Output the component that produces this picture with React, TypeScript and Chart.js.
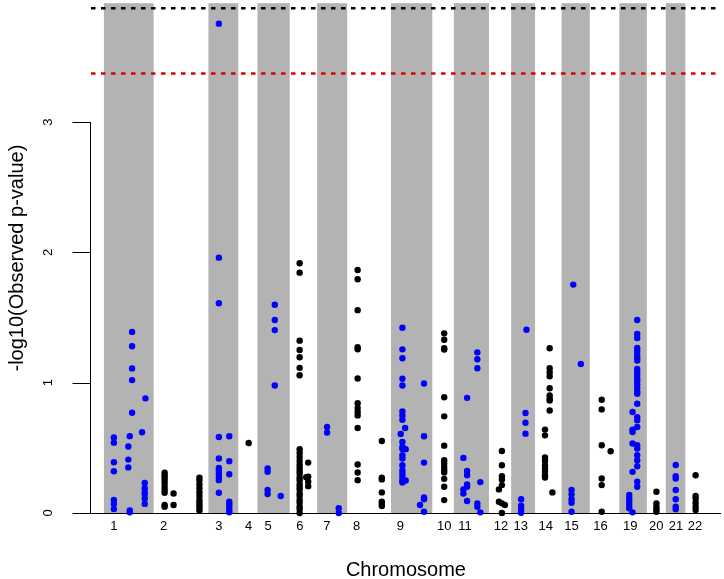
import React, { useEffect, useRef } from "react";
import { Chart, registerables } from "chart.js";

Chart.register(...registerables);

type Group = [number, number[]];

// Chromosome names shown on the x axis (17 and 18 are absent in the data)
const chromosomes = ["1", "2", "3", "4", "5", "6", "7", "8", "9", "10", "11", "12", "13", "14", "15", "16", "19", "20", "21", "22"];
// Cumulative position (arbitrary units) where each chromosome block starts / ends
const chromosomeStarts = [13, 63, 118, 148, 167.3, 199.7, 227.3, 257.5, 301.5, 343, 364.7, 400, 422.3, 446.3, 473, 501.3, 531, 558.7, 577.7, 597.3];
const chromosomeEnds = [63, 118, 148, 167.3, 199.7, 227.3, 257.5, 301.5, 343, 364.7, 400, 422.3, 446.3, 473, 501.3, 531, 558.7, 577.7, 597.3, 617];
// Where each chromosome label sits on the x axis
const labelPositions = [23, 73, 128.5, 158.5, 178, 210, 237, 267, 311, 355, 376, 412, 432, 457, 483, 512, 542, 568, 588, 607];

const yTicks = [0, 1, 2, 3];
const xMin = 0;
const xMax = 633;
const yMax = 3.913;
const suggestiveLine = 3.374;
const significanceLine = 3.874;

// SNP positions and -log10(p) values, grouped as [position, values[]]
const chr1: Group[] = [
  [23, [0.58, 0.54, 0.39, 0.32, 0.1, 0.07, 0.03]],
  [37.5, [0.51, 0.41, 0.35]],
  [39, [0.59, 0.02, 0.005]],
  [41.3, [1.39, 1.28, 1.11, 1.02, 0.77]],
  [51.3, [0.62]],
  [54.7, [0.88]],
  [54, [0.23, 0.19, 0.16, 0.14, 0.11, 0.07]],
];
const chr2: Group[] = [
  [74, [0.31, 0.29, 0.27, 0.25, 0.227, 0.2, 0.176, 0.155, 0.061, 0.048]],
  [83, [0.15, 0.061]],
  [109, [0.27, 0.25, 0.22, 0.19, 0.16, 0.13, 0.1, 0.08, 0.06, 0.04, 0.02]],
];
const chr3: Group[] = [
  [128.5, [3.756, 1.96, 1.61, 0.583, 0.418, 0.346, 0.323, 0.298, 0.273, 0.252, 0.155]],
  [139, [0.589, 0.398, 0.298, 0.086, 0.069, 0.048, 0.023, 0.005]],
];
const chr4: Group[] = [[158.5, [0.537]]];
const chr5: Group[] = [
  [184.7, [1.598, 1.481, 1.404, 0.979]],
  [177.5, [0.342, 0.316, 0.176, 0.145]],
  [190.7, [0.13]],
];
const chr6: Group[] = [
  [209.7, [1.917, 1.845, 1.323, 1.251, 1.195, 1.114, 1.057, 0.49, 0.46, 0.43, 0.4, 0.37, 0.345, 0.32, 0.3, 0.27, 0.25, 0.22, 0.2, 0.18, 0.15, 0.13, 0.1, 0.08, 0.05, 0.03, 0.0]],
  [218.3, [0.387, 0.278, 0.24, 0.206]],
  [216.3, [0.275]],
];
const chr7: Group[] = [
  [237.3, [0.66, 0.617]],
  [249, [0.036, 0.0]],
];
const chr8: Group[] = [
  [268, [1.865, 1.794, 1.557, 1.272, 1.256, 1.032, 0.843, 0.805, 0.775, 0.749, 0.652, 0.372, 0.311, 0.252]],
  [292.3, [0.553, 0.27, 0.258, 0.158, 0.086, 0.069, 0.054]],
];
const chr9: Group[] = [
  [313, [1.422, 1.256, 1.188, 1.03, 0.979, 0.78, 0.749, 0.716, 0.545, 0.507, 0.492, 0.443, 0.418, 0.367, 0.329, 0.303, 0.278, 0.252, 0.235]],
  [315.7, [0.652]],
  [311.3, [0.606]],
  [316.3, [0.49, 0.25]],
  [334.7, [0.994, 0.589, 0.387, 0.12, 0.105, 0.01]],
  [330.7, [0.061]],
];
const chr10: Group[] = [
  [355, [1.379, 1.33, 1.264, 1.254, 0.889, 0.742, 0.517, 0.405, 0.38, 0.354, 0.329, 0.311, 0.262, 0.201, 0.099]],
];
const chr11: Group[] = [
  [378, [0.884, 0.323, 0.29, 0.219, 0.201, 0.092]],
  [388.3, [1.233, 1.18, 1.111, 0.074, 0.048]],
  [374.3, [0.423, 0.181, 0.15]],
  [391.3, [0.237, 0.005]],
];
const chr12: Group[] = [
  [413, [0.476, 0.367, 0.283, 0.258, 0.214, 0.074, 0.0]],
  [410, [0.181, 0.086]],
  [416, [0.061]],
];
const chr13: Group[] = [
  [437.7, [1.407]],
  [436.7, [0.767, 0.693, 0.609]],
  [432.3, [0.105, 0.056, 0.031, 0.002]],
];
const chr14: Group[] = [
  [461, [1.264, 1.111, 1.08, 1.05, 0.958, 0.902, 0.877, 0.864, 0.787]],
  [456.3, [0.64, 0.596, 0.426, 0.4, 0.367, 0.342, 0.316, 0.29, 0.273]],
  [463.7, [0.158]],
];
const chr15: Group[] = [
  [484.7, [1.753]],
  [492.3, [1.144]],
  [483, [0.176, 0.143, 0.105, 0.079, 0.01]],
];
const chr16: Group[] = [
  [513.3, [0.869, 0.795, 0.52, 0.265, 0.214, 0.01]],
  [522.3, [0.474]],
];
const chr19: Group[] = [
  [549, [1.481, 1.374, 1.343, 1.267, 1.241, 1.213, 1.19, 1.17, 1.106, 1.08, 1.055, 1.03, 1.011, 0.986, 0.961, 0.933, 0.915, 0.839, 0.736, 0.711, 0.66, 0.52, 0.495, 0.443, 0.405, 0.359, 0.24, 0.201]],
  [544.3, [0.775, 0.64, 0.622, 0.533, 0.316, 0.005]],
  [541, [0.138, 0.112, 0.086, 0.061, 0.036]],
];
const chr20: Group[] = [[568.3, [0.163, 0.074, 0.048, 0.028, 0.01]]];
const chr21: Group[] = [[587.7, [0.369, 0.283, 0.265, 0.176, 0.105, 0.048, 0.028]]];
const chr22: Group[] = [[607.7, [0.29, 0.13, 0.112, 0.079, 0.048, 0.023]]];

const chromosomeData: Group[][] = [chr1, chr2, chr3, chr4, chr5, chr6, chr7, chr8, chr9, chr10, chr11, chr12, chr13, chr14, chr15, chr16, chr19, chr20, chr21, chr22];

const FONT = "'Liberation Sans', Arial, Helvetica, sans-serif";
const BAND_COLOR = "#b3b3b3";
const ODD_COLOR = "#0000ff";
const EVEN_COLOR = "#000000";

const bandsPlugin = {
  id: "bands",
  beforeDraw(chart: any) {
    const { ctx, chartArea, scales } = chart;
    const x = scales.x;
    ctx.save();
    ctx.fillStyle = BAND_COLOR;
    chromosomes.forEach((_c, i) => {
      if (i % 2 === 0) {
        const l = x.getPixelForValue(chromosomeStarts[i]);
        const r = x.getPixelForValue(chromosomeEnds[i]);
        ctx.fillRect(l, chartArea.top, r - l, chartArea.bottom - chartArea.top);
      }
    });
    ctx.restore();
  },
};

const linesPlugin = {
  id: "thresholds",
  afterDatasetsDraw(chart: any) {
    const { ctx, chartArea, scales } = chart;
    const y = scales.y;
    const draw = (v: number, color: string) => {
      const py = y.getPixelForValue(v);
      ctx.save();
      ctx.strokeStyle = color;
      ctx.lineWidth = 2.5;
      ctx.setLineDash([4.5, 5.5]);
      ctx.beginPath();
      ctx.moveTo(chartArea.left, py);
      ctx.lineTo(chartArea.right, py);
      ctx.stroke();
      ctx.restore();
    };
    draw(significanceLine, "#000000");
    draw(suggestiveLine, "#dd0000");
  },
};

const yAxisPlugin = {
  id: "yaxisR",
  afterDraw(chart: any) {
    const { ctx, chartArea, scales } = chart;
    const y = scales.y;
    const ax = chartArea.left - 0.5;
    const top = Math.round(y.getPixelForValue(yTicks[yTicks.length - 1]));
    const bottom = Math.round(y.getPixelForValue(yTicks[0]));
    ctx.save();
    ctx.strokeStyle = "#000";
    ctx.lineWidth = 1;
    ctx.beginPath();
    ctx.moveTo(ax, top);
    ctx.lineTo(ax, bottom + 1);
    yTicks.forEach((t) => {
      const py = Math.round(y.getPixelForValue(t)) + 0.5;
      ctx.moveTo(ax, py);
      ctx.lineTo(ax - 18, py);
    });
    ctx.stroke();
    ctx.fillStyle = "#000";
    ctx.font = `13px ${FONT}`;
    ctx.textAlign = "center";
    ctx.textBaseline = "middle";
    yTicks.forEach((t) => {
      const py = y.getPixelForValue(t);
      ctx.save();
      ctx.translate(chartArea.left - 43, py);
      ctx.rotate(-Math.PI / 2);
      ctx.fillText(String(t), 0, 0);
      ctx.restore();
    });
    ctx.restore();
  },
};

export default function App() {
  const canvasRef = useRef<HTMLCanvasElement | null>(null);

  useEffect(() => {
    if (!canvasRef.current) return;
    const datasets = chromosomeData.map((groups, i) => ({
      label: chromosomes[i],
      data: groups.flatMap(([pos, vals]) => vals.map((v) => ({ x: pos, y: v }))),
      backgroundColor: i % 2 === 0 ? ODD_COLOR : EVEN_COLOR,
      borderWidth: 0,
      pointRadius: 3.2,
      pointHoverRadius: 3.2,
      clip: false as any,
    }));

    const chart = new Chart(canvasRef.current, {
      type: "scatter",
      data: { datasets },
      options: {
        animation: false,
        responsive: false,
        devicePixelRatio: 1,
        events: [],
        layout: { padding: { top: 2, left: 0, right: 0, bottom: 0 } },
        plugins: { legend: { display: false }, tooltip: { enabled: false } },
        scales: {
          x: {
            type: "linear",
            min: xMin,
            max: xMax,
            grid: { display: false, drawTicks: false },
            border: { display: true, color: "#000", width: 1 },
            ticks: {
              autoSkip: false,
              maxRotation: 0,
              minRotation: 0,
              padding: 6,
              color: "#000",
              font: { family: FONT, size: 13 },
              callback: (_v: any, i: number) => chromosomes[i],
            },
            afterBuildTicks: (scale: any) => {
              scale.ticks = labelPositions.map((v) => ({ value: v }));
            },
            afterFit: (scale: any) => {
              scale.height = 66;
            },
            title: {
              display: true,
              text: "Chromosome",
              color: "#000",
              font: { family: FONT, size: 20, lineHeight: 0.9 },
              padding: { top: 0, bottom: 0 },
            },
          },
          y: {
            type: "linear",
            min: 0,
            max: yMax,
            grid: { display: false, drawTicks: false },
            border: { display: false },
            ticks: { display: false },
            afterFit: (scale: any) => {
              scale.width = 91;
            },
            title: {
              display: true,
              text: "-log10(Observed p-value)",
              color: "#000",
              font: { family: FONT, size: 20, lineHeight: 1.2 },
              padding: { top: 5, bottom: 0 },
            },
          },
        },
      },
      plugins: [bandsPlugin, linesPlugin, yAxisPlugin],
    });
    return () => chart.destroy();
  }, []);

  return (
    <div style={{ position: "fixed", left: 0, top: 0, width: 724, height: 579, background: "#fff" }}>
      <canvas ref={canvasRef} width={724} height={579} style={{ display: "block" }} />
    </div>
  );
}
